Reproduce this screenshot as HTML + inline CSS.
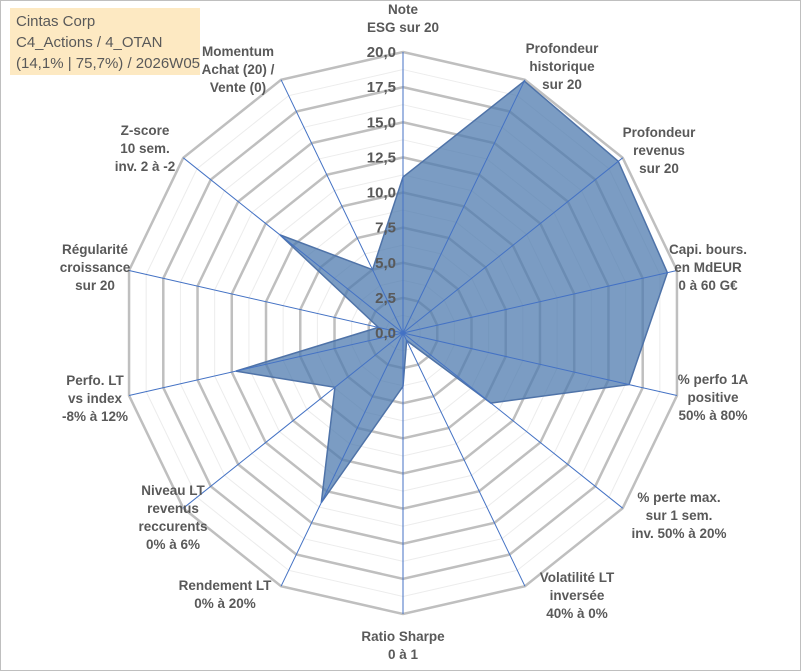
<!DOCTYPE html>
<html><head><meta charset="utf-8"><style>
body{margin:0;width:801px;height:671px;overflow:hidden;background:#fff;font-family:"Liberation Sans",sans-serif}
#frame{position:absolute;left:0;top:0;width:799px;height:669px;border:1px solid #bfbfbf}
#title{position:absolute;left:10px;top:8px;width:190px;height:67px;background:#fde9c2;color:#595959;font-size:15px;line-height:21px;padding:3px 0 0 6px;box-sizing:border-box;white-space:nowrap}
svg{position:absolute;left:0;top:0}
</style></head><body>
<div id="frame"></div>
<svg id="chart" width="801" height="671"></svg>
<div id="title">Cintas Corp<br>C4_Actions / 4_OTAN<br>(14,1% | 75,7%) / 2026W05</div>
<script>
const categories=[["Note","ESG sur 20"],["Profondeur","historique","sur 20"],["Profondeur","revenus","sur 20"],["Capi. bours.","en MdEUR","0 à 60 G€"],["% perfo 1A","positive","50% à 80%"],["% perte max.","sur 1 sem.","inv. 50% à 20%"],["Volatilité LT","inversée","40% à 0%"],["Ratio Sharpe","0 à 1"],["Rendement LT","0% à 20%"],["Niveau LT","revenus","reccurents","0% à 6%"],["Perfo. LT","vs index","-8% à 12%"],["Régularité","croissance","sur 20"],["Z-score","10 sem.","inv. 2 à -2"],["Momentum","Achat (20) /","Vente (0)"]];
const values=[11.1,19.9,19.6,19.3,16.5,8.0,0.6,3.8,13.4,6.2,12.2,1.8,11.2,5.0];
const tickLabels=["0,0","2,5","5,0","7,5","10,0","12,5","15,0","17,5","20,0"];
const maxVal=20;
const labelPos=[[403,18],[562,66],[659,150],[708,267],[713,397],[679,515],[577,595],[403,645],[225,594],[173,517],[95,398],[95,267],[145,148],[238,69]];
const cx=403,cy=333,R=281,N=categories.length;
const svg=document.getElementById('chart');const ns='http://www.w3.org/2000/svg';
function rScale(v){return v/maxVal*R;}
function pt(i,v){const a=2*Math.PI*i/N;return [cx+rScale(v)*Math.sin(a),cy-rScale(v)*Math.cos(a)];}
function mk(t,attrs){const e=document.createElementNS(ns,t);for(const k in attrs)e.setAttribute(k,attrs[k]);svg.appendChild(e);return e;}
for(let k=1;k<=16;k++){const v=k*1.25;const p=[];for(let i=0;i<N;i++)p.push(pt(i,v).join(','));
 const e=mk('polygon',{points:p.join(' '),fill:'none',stroke:k%2?'#ececec':'#bfbfbf','stroke-width':k%2?1:2.5});
 
 }
const sp=values.map((v,i)=>pt(i,v).join(',')).join(' ');
const poly=mk('polygon',{points:sp,fill:'rgba(79,123,175,0.75)',stroke:'#4f73a8','stroke-width':1.5});


for(let i=0;i<N;i++){const [x,y]=pt(i,maxVal);const l=mk('line',{x1:cx,y1:cy,x2:x,y2:y,stroke:'#4472c4','stroke-width':1});
 
 }
tickLabels.forEach((t,k)=>{const y=cy-rScale(k*2.5);const e=mk('text',{x:cx-7,y:y+5,'text-anchor':'end','font-size':15,'font-weight':'bold',fill:'#595959'});e.textContent=t;
 
 });
categories.forEach((lines,i)=>{const [x,y]=labelPos[i];const e=mk('text',{x:x,y:y+5-(lines.length-1)*9,'text-anchor':'middle','font-size':13.5,'font-weight':'bold',fill:'#595959'});
 
 
 lines.forEach((s,j)=>{const ts=document.createElementNS(ns,'tspan');ts.setAttribute('x',x);ts.setAttribute('dy',j?18:0);ts.textContent=s;e.appendChild(ts);});});
</script>
</body></html>
